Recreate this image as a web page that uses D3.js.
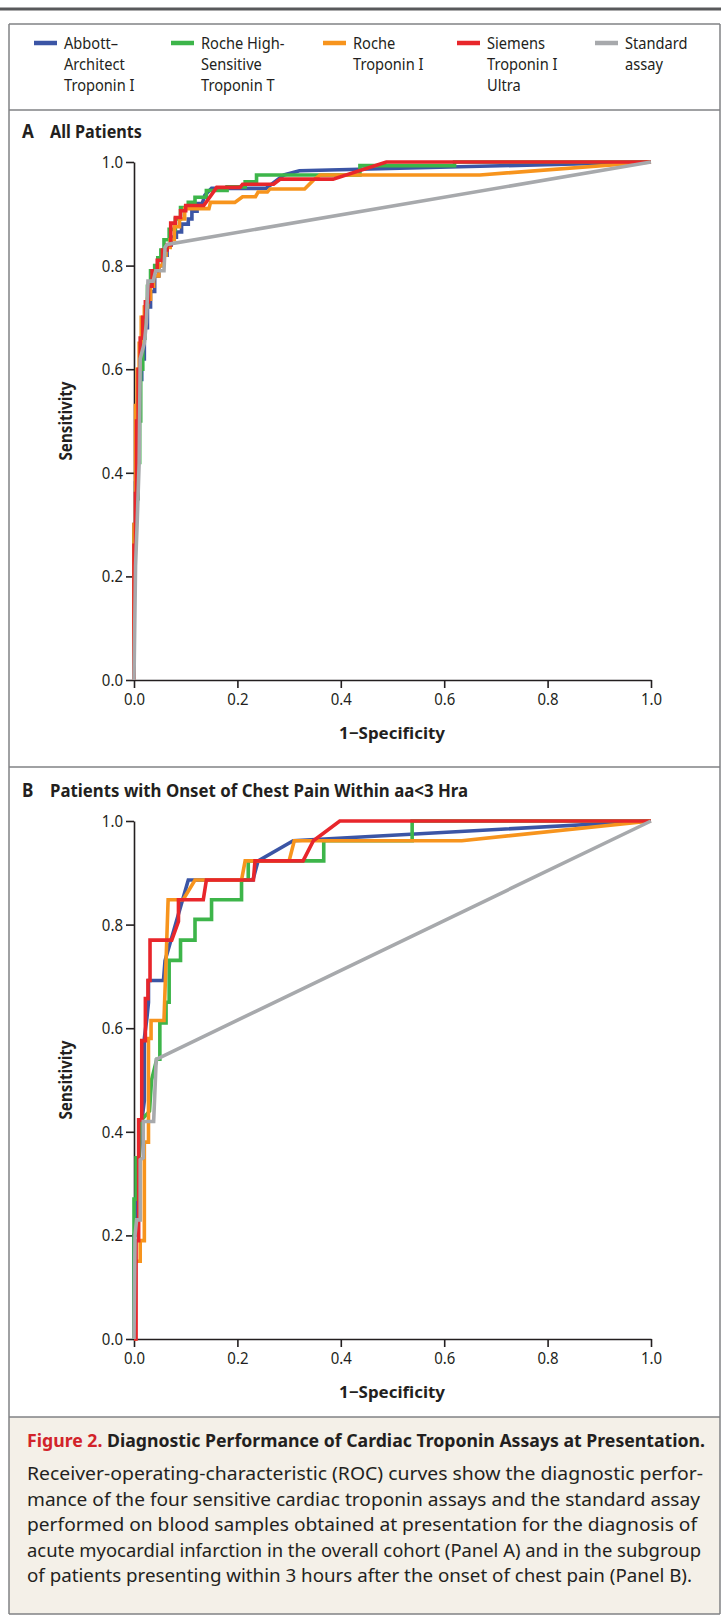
<!DOCTYPE html>
<html>
<head>
  <meta charset="utf-8">
  <script src="https://d3js.org/d3.v7.min.js"></script>
  <style>
    body { margin: 0; background: #fff; }
    svg text { font-family: "Noto Sans", "Open Sans", sans-serif; fill: #231f20; }
  </style>
</head>
<body>
<script type="text/javascript">

/*
  Data: ROC points as [1-specificity, sensitivity]
*/
var assays = ["Abbott–Architect Troponin I", "Roche High-Sensitive Troponin T",
              "Roche Troponin I", "Siemens Troponin I Ultra", "Standard assay"];
var legendLines = [["Abbott–", "Architect", "Troponin I"],
                   ["Roche High-", "Sensitive", "Troponin T"],
                   ["Roche", "Troponin I"],
                   ["Siemens", "Troponin I", "Ultra"],
                   ["Standard", "assay"]];
var colors = ["#3b55a5", "#3db54a", "#f7941d", "#e8262b", "#a7a9ac"];
var xTicks = [0, 0.2, 0.4, 0.6, 0.8, 1.0];
var yTicks = [0, 0.2, 0.4, 0.6, 0.8, 1.0];

var abbottA = [[0,0],[0,0.3],[0.003,0.3],[0.003,0.38],[0.006,0.38],[0.006,0.5],[0.01,0.5],[0.01,0.58],
  [0.015,0.58],[0.015,0.62],[0.02,0.62],[0.02,0.68],[0.026,0.68],[0.026,0.72],[0.032,0.72],[0.032,0.75],
  [0.04,0.75],[0.04,0.78],[0.048,0.78],[0.048,0.8],[0.056,0.8],[0.056,0.82],[0.064,0.82],[0.064,0.84],
  [0.072,0.84],[0.072,0.855],[0.082,0.855],[0.082,0.865],[0.092,0.865],[0.092,0.88],[0.105,0.88],
  [0.105,0.89],[0.112,0.89],[0.112,0.905],[0.122,0.905],[0.122,0.92],[0.132,0.92],[0.137,0.936],
  [0.15,0.949],[0.255,0.949],[0.27,0.96],[0.29,0.975],[0.32,0.983],[1,1]];
var rocheHsA = [[0,0],[0,0.28],[0.004,0.28],[0.004,0.35],[0.008,0.35],[0.008,0.42],[0.011,0.42],[0.011,0.5],
  [0.013,0.5],[0.013,0.6],[0.017,0.6],[0.017,0.66],[0.021,0.66],[0.021,0.72],[0.026,0.72],[0.026,0.76],
  [0.032,0.76],[0.032,0.79],[0.04,0.79],[0.04,0.8],[0.046,0.8],[0.046,0.815],[0.052,0.815],[0.052,0.83],
  [0.058,0.83],[0.058,0.85],[0.068,0.85],[0.068,0.87],[0.08,0.87],[0.08,0.89],[0.09,0.89],[0.09,0.912],
  [0.105,0.912],[0.105,0.922],[0.118,0.922],[0.118,0.932],[0.14,0.932],[0.14,0.945],[0.18,0.945],
  [0.18,0.952],[0.215,0.952],[0.215,0.962],[0.237,0.962],[0.237,0.975],[0.437,0.975],[0.437,0.993],
  [0.62,0.993],[0.62,1],[1,1]];
var rocheIA = [[0,0],[0,0.3],[0.003,0.3],[0.003,0.53],[0.006,0.53],[0.006,0.6],[0.01,0.6],[0.01,0.65],
  [0.014,0.65],[0.014,0.7],[0.02,0.7],[0.02,0.72],[0.026,0.72],[0.026,0.735],[0.032,0.735],[0.032,0.76],
  [0.038,0.76],[0.038,0.78],[0.048,0.78],[0.048,0.8],[0.056,0.8],[0.056,0.82],[0.062,0.82],[0.062,0.835],
  [0.07,0.835],[0.07,0.85],[0.078,0.85],[0.078,0.875],[0.088,0.875],[0.088,0.89],[0.098,0.89],[0.098,0.91],
  [0.145,0.91],[0.148,0.922],[0.195,0.922],[0.21,0.933],[0.235,0.933],[0.24,0.942],[0.258,0.942],
  [0.263,0.948],[0.33,0.948],[0.347,0.965],[0.36,0.975],[0.669,0.975],[1,1]];
var siemensA = [[0,0],[0,0.26],[0.003,0.26],[0.003,0.36],[0.005,0.36],[0.005,0.5],[0.008,0.5],[0.008,0.6],
  [0.012,0.6],[0.012,0.66],[0.017,0.66],[0.017,0.7],[0.022,0.7],[0.022,0.73],[0.028,0.73],[0.028,0.76],
  [0.035,0.76],[0.035,0.79],[0.045,0.79],[0.045,0.81],[0.055,0.81],[0.055,0.83],[0.064,0.83],[0.064,0.84],
  [0.071,0.84],[0.071,0.882],[0.08,0.882],[0.08,0.893],[0.09,0.893],[0.09,0.906],[0.1,0.906],[0.1,0.916],
  [0.135,0.916],[0.16,0.951],[0.205,0.951],[0.21,0.957],[0.27,0.957],[0.283,0.967],[0.385,0.967],
  [0.488,1],[1,1]];
var standardA = [[0,0],[0.003,0.22],[0.006,0.3],[0.01,0.42],[0.012,0.62],[0.02,0.65],[0.024,0.69],
  [0.027,0.77],[0.037,0.77],[0.042,0.79],[0.058,0.79],[0.06,0.835],[0.064,0.841],[1,1]];

var abbottB = [[0,0],[0,0.2],[0.006,0.2],[0.006,0.27],[0.01,0.35],[0.015,0.42],[0.02,0.46],[0.02,0.58],
  [0.025,0.62],[0.028,0.65],[0.028,0.692],[0.057,0.692],[0.06,0.73],[0.105,0.886],[0.23,0.886],
  [0.24,0.923],[0.308,0.962],[1,1]];
var rocheHsB = [[0,0],[0,0.27],[0.004,0.27],[0.004,0.35],[0.01,0.35],[0.012,0.42],[0.03,0.44],[0.034,0.5],
  [0.044,0.54],[0.05,0.54],[0.05,0.61],[0.062,0.61],[0.062,0.65],[0.068,0.65],[0.068,0.731],[0.09,0.731],
  [0.09,0.77],[0.118,0.77],[0.118,0.81],[0.15,0.81],[0.15,0.848],[0.208,0.848],[0.208,0.886],[0.221,0.886],
  [0.221,0.923],[0.367,0.923],[0.367,0.962],[0.538,0.962],[0.538,1],[1,1]];
var rocheIB = [[0,0],[0.002,0],[0.002,0.15],[0.012,0.15],[0.012,0.19],[0.02,0.19],[0.02,0.38],[0.028,0.38],
  [0.028,0.58],[0.033,0.58],[0.033,0.615],[0.058,0.615],[0.062,0.73],[0.066,0.848],[0.095,0.848],
  [0.118,0.886],[0.208,0.886],[0.215,0.923],[0.3,0.923],[0.31,0.962],[0.634,0.962],[1,1]];
var siemensB = [[0,0],[0.004,0],[0.004,0.19],[0.009,0.19],[0.009,0.423],[0.015,0.423],[0.015,0.576],
  [0.022,0.576],[0.022,0.657],[0.027,0.657],[0.027,0.692],[0.031,0.692],[0.031,0.77],[0.073,0.77],
  [0.086,0.806],[0.086,0.848],[0.134,0.848],[0.14,0.886],[0.231,0.886],[0.234,0.923],[0.327,0.923],
  [0.347,0.962],[0.398,1],[1,1]];
var standardB = [[0,0],[0.002,0.2],[0.005,0.23],[0.012,0.23],[0.012,0.346],[0.018,0.35],[0.018,0.42],
  [0.038,0.42],[0.043,0.54],[1,1]];

var captionTitle = ["Figure 2.", " Diagnostic Performance of Cardiac Troponin Assays at Presentation."];
var captionLines = [
  "Receiver-operating-characteristic (ROC) curves show the diagnostic perfor-",
  "mance of the four sensitive cardiac troponin assays and the standard assay",
  "performed on blood samples obtained at presentation for the diagnosis of",
  "acute myocardial infarction in the overall cohort (Panel A) and in the subgroup",
  "of patients presenting within 3 hours after the onset of chest pain (Panel B)."];

/*
  Page setup
*/
var W = 721, H = 1616;
var boxL = 9, boxR = 720;
var svg = d3.select("body").append("svg")
    .attr("width", W)
    .attr("height", H);

function squeeze(sel, k) {
  sel.each(function () {
    var len = this.getComputedTextLength();
    d3.select(this).attr("textLength", len * k).attr("lengthAdjust", "spacingAndGlyphs");
  });
}
function fit(sel, w) {
  sel.attr("textLength", w).attr("lengthAdjust", "spacingAndGlyphs");
}

/* top rule and frame */
svg.append("line")
    .attr("x1", 0).attr("x2", W).attr("y1", 9).attr("y2", 9)
    .style("stroke", "#58595b").style("stroke-width", 3);

svg.append("rect")
    .attr("x", boxL).attr("y", 1417).attr("width", boxR - boxL).attr("height", 197)
    .style("fill", "#f4f0e8");

[24, 110, 767, 1417, 1614].forEach(function (yy) {
  svg.append("line")
      .attr("x1", boxL).attr("x2", boxR).attr("y1", yy).attr("y2", yy)
      .style("stroke", "#808285").style("stroke-width", 1.5);
});
[boxL, boxR].forEach(function (xx) {
  svg.append("line")
      .attr("x1", xx).attr("x2", xx).attr("y1", 24).attr("y2", 1614)
      .style("stroke", "#808285").style("stroke-width", 1.5);
});

/*
  Legend
*/
var legendX = [34, 171, 323, 457, 595];
var leg = svg.selectAll("g.legend")
    .data(assays)
    .enter()
    .append("g")
      .attr("class", "legend")
      .attr("transform", function (d, i) { return "translate(" + legendX[i] + ",0)"; });

leg.append("line")
    .attr("x1", 0).attr("x2", 23).attr("y1", 43).attr("y2", 43)
    .style("stroke", function (d, i) { return colors[i]; })
    .style("stroke-width", 4.5);

leg.each(function (d, i) {
  d3.select(this).selectAll("text")
    .data(legendLines[i])
    .enter()
    .append("text")
      .attr("x", 30)
      .attr("y", function (t, j) { return 49 + j * 21; })
      .style("font-size", "17px")
      .text(function (t) { return t; })
      .call(squeeze, 0.86);
});

/*
  One panel of ROC curves
*/
function drawPanel(top, letter, title, titleLen, series) {
  var y0 = top + 570, y1 = top + 52;
  var x = d3.scaleLinear().domain([0, 1]).range([134, 651]);
  var y = d3.scaleLinear().domain([0, 1]).range([y0, y1]);

  svg.append("text")
      .attr("x", 22).attr("y", top + 28)
      .style("font-size", "19px").style("font-weight", "bold")
      .text(letter)
      .call(squeeze, 0.9);
  svg.append("text")
      .attr("x", 50).attr("y", top + 28)
      .style("font-size", "17px").style("font-weight", "bold")
      .text(title)
      .call(fit, titleLen);

  var yAxis = svg.append("g")
      .attr("transform", "translate(134,0)")
      .call(d3.axisLeft(y).tickValues(yTicks).tickFormat(d3.format(".1f"))
              .tickSize(8).tickSizeOuter(0).tickPadding(3));
  var xAxis = svg.append("g")
      .attr("transform", "translate(0," + y0 + ")")
      .call(d3.axisBottom(x).tickValues(xTicks).tickFormat(d3.format(".1f"))
              .tickSize(8).tickSizeOuter(0).tickPadding(5));

  [yAxis, xAxis].forEach(function (a) {
    a.selectAll("path, line").style("stroke", "#231f20").style("stroke-width", 1.6);
    a.selectAll("text")
        .style("font-size", "17px")
        .style("font-family", "\"Noto Sans\", sans-serif")
        .style("fill", "#231f20")
        .call(squeeze, 0.88);
  });

  svg.append("text")
      .attr("transform", "translate(72," + ((y0 + y1) / 2) + ") rotate(-90)")
      .attr("text-anchor", "middle")
      .style("font-size", "17px").style("font-weight", "bold")
      .text("Sensitivity")
      .call(fit, 79);

  svg.append("text")
      .attr("x", 392).attr("y", y0 + 59)
      .attr("text-anchor", "middle")
      .style("font-size", "16.5px").style("font-weight", "bold")
      .text("1\u2212Specificity")
      .call(fit, 106);

  var line = d3.line()
      .x(function (d) { return x(d[0]); })
      .y(function (d) { return y(d[1]); });

  svg.append("g").selectAll("path")
      .data(series)
      .enter()
      .append("path")
        .attr("d", line)
        .style("fill", "none")
        .style("stroke", function (d, i) { return colors[i]; })
        .style("stroke-width", 3.6)
        .style("stroke-linejoin", "miter");
}

drawPanel(110, "A", "All Patients", 92,
          [abbottA, rocheHsA, rocheIA, siemensA, standardA]);
drawPanel(769, "B", "Patients with Onset of Chest Pain Within aa<3 Hra", 418,
          [abbottB, rocheHsB, rocheIB, siemensB, standardB]);

/*
  Caption
*/
var cap = svg.append("text")
    .attr("x", 27).attr("y", 1447)
    .style("font-size", "18.5px").style("font-weight", "bold");
cap.append("tspan").style("fill", "#d2232a").text(captionTitle[0]);
cap.append("tspan").text(captionTitle[1]);
cap.call(fit, 678);

var capW = [676, 673, 670, 674, 665];
svg.selectAll("text.cap")
    .data(captionLines)
    .enter()
    .append("text")
      .attr("class", "cap")
      .attr("x", 27)
      .attr("y", function (d, i) { return 1480 + i * 25.5; })
      .style("font-size", "18.5px")
      .text(function (d) { return d; })
      .each(function (d, i) { d3.select(this).call(fit, capW[i]); });

</script>
</body>
</html>
